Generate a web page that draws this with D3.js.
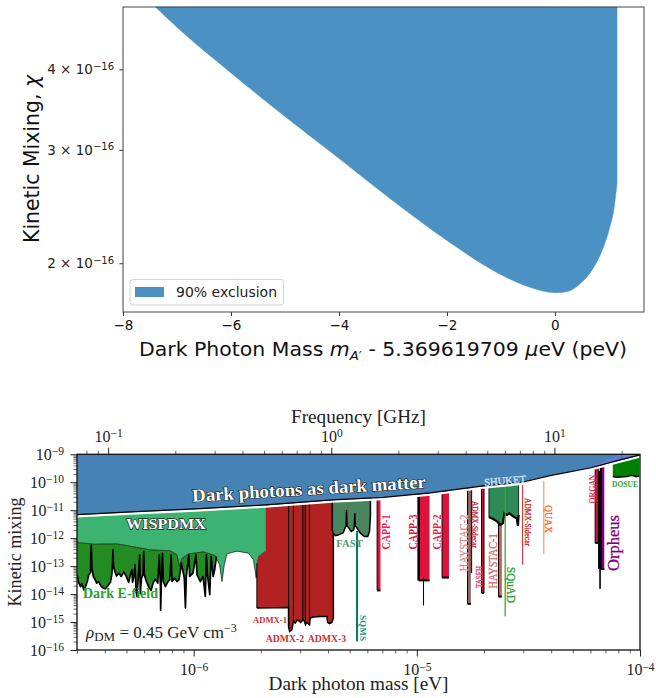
<!DOCTYPE html>
<html><head><meta charset="utf-8">
<script src="https://cdn.jsdelivr.net/npm/d3@7"></script>
<style>
html,body{margin:0;padding:0;background:#fff}
svg{display:block}
</style></head><body>
<svg id="c" width="656" height="698"></svg>
<script>
// ---------- upper panel data ----------
const exclMass = [-7.4,-7,-6,-5,-4,-3,-2,-1,-0.5,0,0.25,0.5,0.7,0.85,1.0,1.1,1.15];
const exclChi  = [5.0,4.65,3.95,3.38,2.91,2.5,2.17,1.92,1.84,1.80,1.81,1.87,1.96,2.07,2.25,2.45,2.66];
const exclTicksY = [2,3,4];
const exclTicksX = [-8,-6,-4,-2,0];

// ---------- lower panel data: log10(mass/eV), log10(chi) ----------
const boundaryMass = [-6.523,-6.282,-5.969,-5.678,-5.378,-5.150,-4.940,-4.702,-4.523,-4.403,-4.224,-4.089,-4.0];
const boundaryChi  = [-11.16,-11.06,-10.94,-10.81,-10.63,-10.54,-10.38,-10.13,-9.99,-9.76,-9.49,-9.20,-9.02];

const wispMass = [-6.523,-6.447,-6.343,-6.276,-6.194,-6.104,-6.075,-6.063,-6.052,-6.022,-5.955,-5.903,-5.884,-5.873,-5.863,-5.851,-5.806,-5.754,-5.732,-5.720,-5.709,-5.679];
const wispChi  = [-12.155,-12.214,-12.202,-12.298,-12.417,-12.452,-12.595,-13.012,-12.714,-12.56,-12.488,-12.631,-12.95,-13.548,-12.95,-12.56,-12.464,-12.536,-12.774,-13.43,-12.655,-12.476];

const efieldMass = [-6.522,-6.516,-6.507,-6.501,-6.492,-6.485,-6.477,-6.470,-6.462,-6.461,-6.459,-6.458,-6.456,-6.450,-6.443,-6.435,-6.426,-6.417,-6.405,-6.395,-6.384,-6.373,-6.367,-6.364,-6.362,-6.359,-6.353,-6.346,-6.335,-6.325,-6.313,-6.303,-6.291,-6.284,-6.277,-6.274,-6.268,-6.263,-6.258,-6.254,-6.249,-6.242,-6.239,-6.234,-6.227,-6.224,-6.221,-6.212,-6.202,-6.191,-6.182,-6.172,-6.161,-6.154,-6.149,-6.148,-6.145,-6.140,-6.136,-6.127,-6.115,-6.107,-6.101,-6.097,-6.085,-6.075,-6.066,-6.060,-6.055,-6.051,-6.042,-6.037,-6.033,-6.022,-6.018,-6.003,-5.990,-5.985,-5.970,-5.958,-5.948,-5.943,-5.939,-5.928,-5.922,-5.913,-5.906,-5.898];
const efieldChi  = [-13.31,-13.58,-13.73,-13.63,-13.85,-13.75,-13.55,-13.31,-13.23,-12.54,-12.25,-12.54,-13.07,-13.37,-13.46,-13.61,-13.55,-13.70,-13.79,-13.81,-13.69,-13.58,-13.31,-13.01,-12.42,-13.01,-13.19,-13.35,-13.25,-13.37,-13.21,-13.35,-13.58,-13.31,-13.13,-13.58,-13.37,-12.95,-13.90,-14.08,-13.49,-12.60,-13.99,-13.43,-13.31,-12.48,-13.31,-13.55,-13.73,-13.87,-13.61,-13.46,-13.61,-12.60,-13.73,-14.58,-13.61,-12.54,-13.55,-13.73,-13.55,-13.49,-12.60,-13.55,-13.43,-13.55,-13.49,-13.19,-12.89,-13.07,-13.43,-14.5,-13.37,-12.60,-13.37,-13.25,-12.60,-13.31,-13.55,-13.37,-14.08,-12.60,-13.25,-14.02,-12.65,-13.37,-13.13,-12.66];

const admxMass = [-5.717,-5.717,-5.709,-5.694,-5.679,-5.679,-5.374,-5.374,-5.381,-5.392,-5.400,-5.403,-5.433,-5.463,-5.478,-5.481,-5.493,-5.499,-5.503,-5.511,-5.520,-5.535,-5.545,-5.553,-5.560,-5.570,-5.575,-5.575,-5.717];
const admxChi  = [-14.5,-12.893,-12.655,-12.56,-12.476,-9,-9,-14.857,-15.012,-15.06,-15.012,-14.798,-14.798,-14.821,-14.857,-15.095,-15.012,-15.095,-14.976,-14.917,-15.012,-14.917,-15.036,-14.976,-15.274,-15.333,-15.155,-14.476,-14.5];
const admxDividerMass = [-5.575,-5.553,-5.511,-5.500,-5.481];
const admxDividerChi  = [-15.2,-14.98,-14.92,-15.05,-15.09];

const fastMass = [-5.379,-5.379,-5.375,-5.365,-5.350,-5.330,-5.317,-5.315,-5.313,-5.294,-5.283,-5.280,-5.278,-5.276,-5.253,-5.235,-5.220,-5.212,-5.208,-5.208];
const fastChi  = [-9,-11.70,-11.82,-11.91,-11.88,-11.80,-11.55,-10.99,-11.55,-11.76,-11.70,-11.55,-11.11,-11.55,-11.82,-11.94,-11.94,-11.76,-11.2,-9];

const shuketMass = [-4.677,-4.677,-4.664,-4.641,-4.626,-4.614,-4.608,-4.596,-4.585,-4.567,-4.552,-4.547,-4.544,-4.544];
const shuketChi  = [-9,-11.25,-11.29,-11.40,-11.52,-11.46,-11.11,-11.17,-11.11,-11.23,-11.29,-11.56,-11.17,-9];

const dosueMass = [-4.122,-4.122,-4.104,-4.060,-4.037,-4.015,-4.003,-4.003];
const dosueChi  = [-9,-9.80,-9.82,-9.80,-9.75,-9.80,-9.77,-9];

const wedgeMass = [-4.224,-4.097,-4.0,-4.0,-4.089,-4.224];
const wedgeChi  = [-9.49,-9,-9,-9.02,-9.20,-9.49];

const columnNames = ["CAPP-1","CAPP-3","CAPP-2","HAYSTAC-2","ADMX-Sidecar","TASEH","HAYSTAC-1","ORGAN","Orpheus"];
const columnLeft  = [-5.178,-4.992,-4.887,-4.773,-4.756,-4.710,-4.634,-4.201,-4.176];
const columnRight = [-5.163,-4.943,-4.856,-4.758,-4.752,-4.699,-4.619,-4.187,-4.160];
const columnFloor = [-13.87,-13.51,-13.41,-14.35,-13.25,-13.96,-14.09,-12.17,-13.10];

const lineNames = ["SQMS","SQuAD","ADMX-Sidecar 2","QUAX","CAPP-3 dip","Orpheus dip","ORGAN dark","GEM edge"];
const lineMass  = [-5.268,-4.604,-4.526,-4.431,-4.970,-4.179,-4.183,-4.082];
const lineTop   = [-11.74,-10.18,-9,-9.95,-13.4,-13.0,-9.6,-9];
const lineFloor = [-15.69,-14.80,-12.95,-12.57,-14.41,-13.81,-13.1,-9.2];

// ---------- style tables ----------
const columnColor = ["#DC143C","#DC143C","#DC143C","#8a6666","#B22222","#DC143C","#CD5C5C","#DC143C","#800080"];
const lineColor = ["#007a5e","#3aa83a","#d0202f","#ff7f50","#000","#000","#000","#3f5f9f"];
const lineWidth = [2,1.3,1,1,1,1.6,2.2,.8];

const svg = d3.select("#c");
const sans = '"DejaVu Sans",sans-serif', serif = '"Liberation Serif",serif';

// ========== upper panel ==========
(function(){
  const x = d3.scaleLinear().domain([-8,1.65]).range([123,644]);
  const y = d3.scaleLog().domain([1.68,5.0]).range([312,7]);
  const g = svg.append("g");
  const area = d3.area().x(d=>x(d[0])).y0(y(5.0)).y1(d=>y(d[1])).curve(d3.curveMonotoneX);
  const pts = exclMass.map((m,i)=>[m,exclChi[i]]);
  g.append("path").attr("d",area(pts)).attr("fill","#4b91c3").attr("stroke","#4b91c3").attr("stroke-width",.5);

  const ax = g.append("g").attr("transform","translate(0,312)")
    .call(d3.axisBottom(x).tickValues(exclTicksX).tickSize(4).tickPadding(4).tickFormat(d=>String(d).replace("-","\u2212")));
  ax.selectAll("text").attr("font-family",sans).attr("font-size",13.5).attr("fill","#111");
  ax.select(".domain").remove();
  ax.selectAll("line").attr("stroke","#333");

  const ay = g.append("g").attr("transform","translate(123,0)")
    .call(d3.axisLeft(y).tickValues(exclTicksY).tickSize(3.5).tickPadding(3).tickFormat(""));
  ay.select(".domain").remove();
  ay.selectAll("line").attr("stroke","#333");
  ay.selectAll(".tick").append("text").attr("x",-9).attr("dy","0.32em").attr("text-anchor","end")
    .attr("font-family",sans).attr("font-size",13.5).attr("fill","#222")
    .each(function(d){
      const t=d3.select(this);
      t.append("tspan").text(d+" \u00d7 10");
      t.append("tspan").attr("dy","-0.45em").attr("font-size",10).text("\u221216");
    });

  g.append("rect").attr("x",123).attr("y",7).attr("width",521).attr("height",305)
    .attr("fill","none").attr("stroke","#444").attr("stroke-width",1);

  // legend
  g.append("rect").attr("x",130).attr("y",279.5).attr("width",153.5).attr("height",25.5).attr("rx",2.5)
    .attr("fill","#fff").attr("stroke","#d4d4d4").attr("stroke-width",1);
  g.append("rect").attr("x",135).attr("y",287).attr("width",29).attr("height",10).attr("fill","#4b91c3");
  g.append("text").attr("x",176).attr("y",297).attr("font-family",sans).attr("font-size",14).attr("fill","#222")
    .attr("textLength",101).attr("lengthAdjust","spacingAndGlyphs").text("90% exclusion");

  const xl = g.append("text").attr("x",139).attr("y",356).attr("font-family",sans).attr("font-size",20).attr("fill","#111")
    .attr("textLength",488).attr("lengthAdjust","spacingAndGlyphs");
  xl.append("tspan").text("Dark Photon Mass ");
  xl.append("tspan").attr("font-style","italic").text("m");
  xl.append("tspan").attr("font-style","italic").attr("font-size",13).attr("dy",4).text("A\u2032");
  xl.append("tspan").attr("dy",-4).text(" - 5.369619709 ");
  xl.append("tspan").attr("font-style","italic").text("\u03bc");
  xl.append("tspan").text("eV (peV)");

  const yl = g.append("text").attr("transform","translate(39,159) rotate(-90)").attr("text-anchor","middle")
    .attr("font-family",sans).attr("font-size",21).attr("fill","#111").attr("textLength",168).attr("lengthAdjust","spacingAndGlyphs");
  yl.append("tspan").text("Kinetic Mixing, ");
  yl.append("tspan").attr("font-style","italic").text("\u03c7");
})();

// ========== lower panel ==========
(function(){
  const L=77,R=640,T=454.3,B=650;
  const x = d3.scaleLog().domain([3e-7,1e-4]).range([L,R]);
  const y = d3.scaleLog().domain([1e-16,1e-9]).range([B,T]);
  const ghzPerEv = 1/4.1357e-6;
  const xf = d3.scaleLog().domain([3e-7*ghzPerEv,1e-4*ghzPerEv]).range([L,R]);
  const X = e=>x(Math.pow(10,e)), Y = e=>y(Math.pow(10,e));
  const zip = (a,b)=>a.map((m,i)=>[m,b[i]]);
  const line = d3.line().x(d=>X(d[0])).y(d=>Y(d[1]));
  svg.append("clipPath").attr("id","pc").append("rect").attr("x",L).attr("y",T).attr("width",R-L).attr("height",B-T);
  const g = svg.append("g").attr("clip-path","url(#pc)");

  // WISPDMX
  const wisp = zip(wispMass,wispChi);
  g.append("path").attr("d",line([[wisp[0][0],-9],...wisp,[wisp[wisp.length-1][0],-9]])+"Z").attr("fill","#3CB371");
  // Dark E-field
  const ef = zip(efieldMass,efieldChi);
  const wispTop = wisp.filter(d=>d[0]<=-5.903).reverse();
  g.append("path").attr("d",line([...ef,...wispTop])+"Z").attr("fill","#228B22");
  g.append("path").attr("d",line(wisp)).attr("fill","none").attr("stroke","#111").attr("stroke-width",.7);
  g.append("path").attr("d",line(ef)).attr("fill","none").attr("stroke","#000").attr("stroke-width",1.7).attr("stroke-linejoin","round");

  // ADMX
  const ad = zip(admxMass,admxChi);
  g.append("path").attr("d",line(ad)+"Z").attr("fill","#B22222");
  g.append("path").attr("d",line(ad.slice(6))).attr("fill","none").attr("stroke","#000").attr("stroke-width",1.5);
  g.append("path").attr("d",line(ad.slice(0,2))).attr("fill","none").attr("stroke","#000").attr("stroke-width",.9);
  g.selectAll(".ad").data(zip(admxDividerMass,admxDividerChi)).join("line")
    .attr("x1",d=>X(d[0])).attr("x2",d=>X(d[0])).attr("y1",Y(-9)).attr("y2",d=>Y(d[1]))
    .attr("stroke","#000").attr("stroke-width",1.1);

  // FAST
  const fa = zip(fastMass,fastChi);
  g.append("path").attr("d",line(fa)+"Z").attr("fill","#4a8560");
  g.append("path").attr("d",line(fa)).attr("fill","none").attr("stroke","#000").attr("stroke-width",1.5);

  // columns
  columnNames.forEach((n,i)=>{
    const c = [[columnLeft[i],-9],[columnLeft[i],columnFloor[i]],[columnRight[i],columnFloor[i]],[columnRight[i],-9]];
    g.append("path").attr("d",line(c)).attr("fill",columnColor[i]).attr("stroke","none");
    g.append("path").attr("d",line(c.slice(0,2))).attr("fill","none").attr("stroke","#000").attr("stroke-width",i==1?2.5:1);
    g.append("path").attr("d",line(c.slice(1,3))).attr("fill","none").attr("stroke","#000").attr("stroke-width",i==4?0:2);
    if(i==5||i==7) g.append("path").attr("d",line(c.slice(2))).attr("fill","none").attr("stroke","#000").attr("stroke-width",1);
    if(i==8) g.append("path").attr("d",line(c.slice(0,2))).attr("fill","none").attr("stroke","#000").attr("stroke-width",2);
  });

  // SHUKET
  const sh = zip(shuketMass,shuketChi);
  g.append("path").attr("d",line(sh)+"Z").attr("fill","#2E8B57");
  g.append("path").attr("d",line(sh)).attr("fill","none").attr("stroke","#000").attr("stroke-width",.8);
  g.append("path").attr("d",line(sh.slice(1,-1))).attr("fill","none").attr("stroke","#000").attr("stroke-width",2.2);

  // thin lines
  lineNames.forEach((n,i)=>{
    if(i==7) return;
    g.append("line").attr("x1",X(lineMass[i])).attr("x2",X(lineMass[i]))
      .attr("y1",Y(lineTop[i])).attr("y2",Y(lineFloor[i]))
      .attr("stroke",lineColor[i]).attr("stroke-width",lineWidth[i]);
  });

  // DOSUE
  const dz = zip(dosueMass,dosueChi);
  g.append("path").attr("d",line(dz)+"Z").attr("fill","#008000");
  g.append("path").attr("d",line(dz.slice(1,-1))).attr("fill","none").attr("stroke","#000").attr("stroke-width",1.4);

  // dark-matter boundary
  const bd = zip(boundaryMass,boundaryChi);
  g.append("path").attr("d",line([[boundaryMass[0],-9],...bd,[boundaryMass[boundaryMass.length-1],-9]])+"Z").attr("fill","#4682B4");
  g.append("path").attr("d",line(zip(wedgeMass,wedgeChi))+"Z").attr("fill","#5f7fd6");
  g.append("line").attr("x1",X(lineMass[7])).attr("x2",X(lineMass[7])).attr("y1",Y(lineTop[7])).attr("y2",Y(lineFloor[7]))
    .attr("stroke",lineColor[7]).attr("stroke-width",lineWidth[7]);
  g.append("path").attr("d",line(bd)).attr("fill","none").attr("stroke","#fff").attr("stroke-width",2.4).attr("transform","translate(0,1.7)");
  g.append("path").attr("d",line(bd)).attr("fill","none").attr("stroke","#000").attr("stroke-width",1.2);

  // axes
  const isMajor = v=>Math.abs(Math.log10(v)-Math.round(Math.log10(v)))<1e-6;
  const sup = (sel,anchor)=>sel.each(function(d){
    const e=Math.round(Math.log10(d));
    const t=d3.select(this).text(null);
    if(!isMajor(d)) return;
    t.attr("font-family",serif).attr("font-size",16).attr("fill","#222").attr("text-anchor",anchor);
    t.append("tspan").text("10");
    t.append("tspan").attr("dy","-0.42em").attr("font-size",11.5).text(String(e).replace("-","\u2212"));
  });
  const len = (sel,dim,sign)=>sel.selectAll(".tick line").attr(dim,d=>sign*(isMajor(d)?6.5:3.5)).attr("stroke","#222").attr("stroke-width",d=>isMajor(d)?1:.7);

  const ax = svg.append("g").attr("transform",`translate(0,${B})`).call(d3.axisBottom(x).tickPadding(8));
  ax.select(".domain").remove(); len(ax,"y2",1); ax.selectAll("text").call(sup,"middle");
  const at = svg.append("g").attr("transform",`translate(0,${T})`).call(d3.axisTop(xf).tickPadding(6));
  at.select(".domain").remove(); len(at,"y2",-1); at.selectAll("text").call(sup,"middle");
  const ay = svg.append("g").attr("transform",`translate(${L},0)`).call(d3.axisLeft(y).tickPadding(7));
  ay.select(".domain").remove(); len(ay,"x2",-1); ay.selectAll("text").call(sup,"end");
  svg.append("rect").attr("x",L).attr("y",T).attr("width",R-L).attr("height",B-T).attr("fill","none").attr("stroke","#111").attr("stroke-width",1.3);

  // axis titles
  const title=(s,tx,ty,r,w)=>svg.append("text").attr("transform",`translate(${tx},${ty}) rotate(${r})`).attr("text-anchor","middle")
    .attr("font-family",serif).attr("font-size",18).attr("fill","#222").attr("textLength",w).attr("lengthAdjust","spacingAndGlyphs").text(s);
  title("Frequency [GHz]",358.5,423,0,135);
  title("Dark photon mass [eV]",358.5,690,0,180);
  title("Kinetic mixing",21,552,-90,109);

  // annotations
  const labelText  = ["Dark photons as dark matter","WISPDMX","Dark E-field","ADMX-1","ADMX-2","ADMX-3","FAST","SQMS","CAPP-1","CAPP-3","CAPP-2","HAYSTAC-2","ADMX-Sidecar","TASEH","HAYSTAC-1","SQuAD","ADMX-Sidecar","QUAX","ORGAN","Orpheus","SHUKET","DOSUE"];
  const labelX     = [309,166,120.5,270,285,327,349.5,363,386,412.5,436.5,463.5,475,479,492.5,511,527.5,548.5,592.5,613,505,625];
  const labelY     = [488.5,524,593,620,638.7,638.7,543,628,532,532,532,543,524.5,577,561,585,522,519,489,543,480.5,484.5];
  const labelRot   = [-3.4,0,0,0,0,0,0,90,-90,-90,-90,-90,90,-90,-90,90,90,90,-90,-90,-5,0];
  const labelSize  = [18,15.5,14.5,9,9.5,9.5,10.5,9,12,12,12,13,7.5,8.5,13,12.5,7.5,10.5,9.5,16.5,10.5,8];
  const labelLen   = [234,80,75,34,38.5,38.5,26.5,26,35,35,35,57,47,22,55,36,48,28,29,56,42,26];
  const labelFill  = ["#fff","#fff","#2ca02c","#cc2f35","#cc2f35","#cc2f35","#4f9a74","#1f8f6e","#e8234f","#e0103f","#e8234f","#e58a8a","#c4303a","#e8406a","#d9606a","#2ca02c","#c4303a","#ff6a30","#e8305a","#800080","#cfe2f3","#2ca02c"];
  const labelWeight= [700,700,700,700,700,700,700,700,700,700,700,400,400,400,400,400,400,400,700,400,400,700];
  labelText.forEach((s,i)=>{
    const t = svg.append("text").attr("transform",`translate(${labelX[i]},${labelY[i]}) rotate(${labelRot[i]})`)
      .attr("text-anchor","middle").attr("dy","0.35em").attr("font-family",serif)
      .attr("font-size",labelSize[i]).attr("font-weight",labelWeight[i]).attr("fill",labelFill[i])
      .attr("textLength",labelLen[i]).attr("lengthAdjust","spacingAndGlyphs").text(s);
    if(i<2) t.attr("stroke","#222").attr("stroke-width",1.3).attr("paint-order","stroke");
    else if(labelWeight[i]==400) t.attr("stroke",labelFill[i]).attr("stroke-width",.3);
  });
  const rho = svg.append("text").attr("x",86).attr("y",638).attr("font-family",serif).attr("font-size",17).attr("fill","#222");
  rho.append("tspan").attr("font-style","italic").text("\u03c1");
  rho.append("tspan").attr("dy",3).attr("font-size",13).text("DM");
  rho.append("tspan").attr("dy",-3).text(" = 0.45 GeV cm");
  rho.append("tspan").attr("dy",-6).attr("font-size",12).text("\u22123");
})();
</script>
</body></html>
